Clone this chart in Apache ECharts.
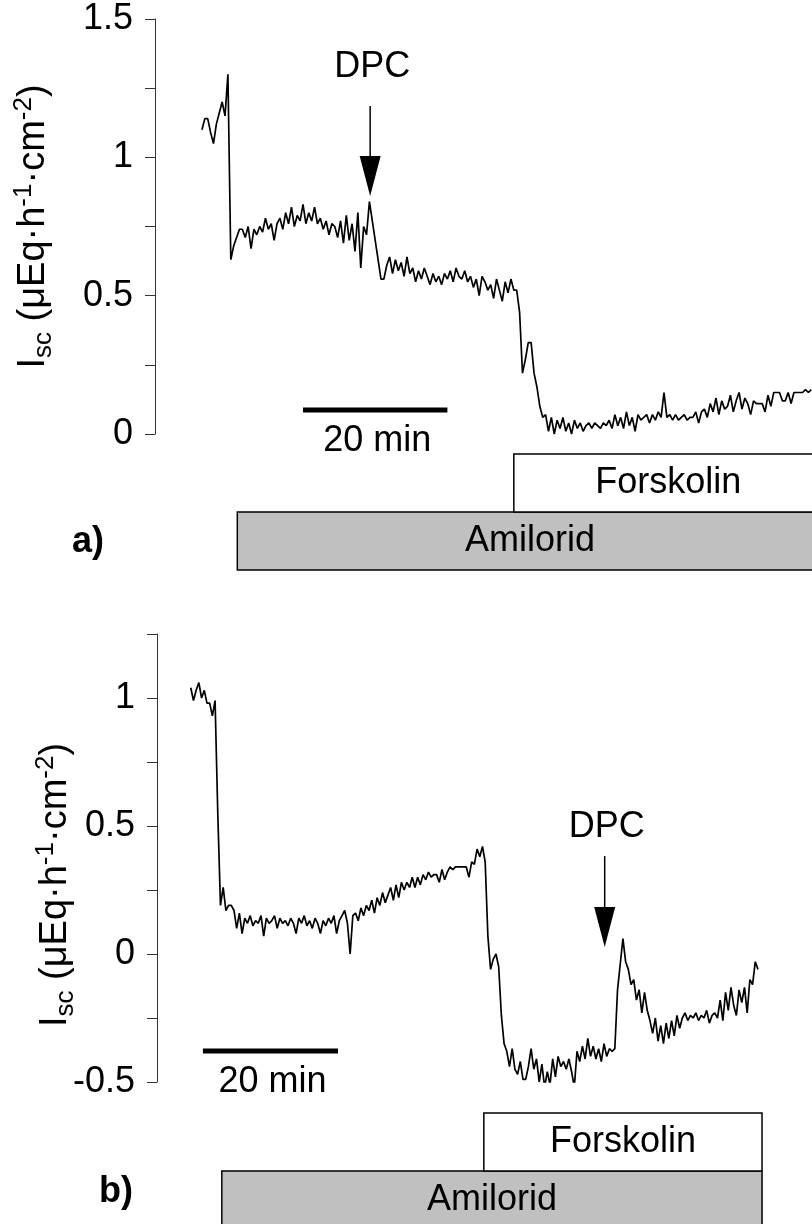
<!DOCTYPE html>
<html><head><meta charset="utf-8">
<script src="https://cdn.jsdelivr.net/npm/echarts@6/dist/echarts.min.js"></script>
<style>html,body{margin:0;padding:0;background:#fff}#c{width:812px;height:1224px}</style>
</head><body><div id="c"></div>
<script>
// ---- data ----
const SAMPLE_MIN = 0.4; // recording sample interval (min)

// panel a) short-circuit current, µEq·h-1·cm-2
const iscA = [
 1.10,1.14,1.14,1.09,1.05,1.12,1.16,1.20,1.15,1.30,
 0.63,
 0.68,0.71,0.74,0.74,0.71,0.75,0.67,0.74,0.72,0.75,
 0.73,0.78,0.74,0.76,0.70,0.76,0.78,0.74,0.80,0.76,
 0.82,0.75,0.79,0.77,0.83,0.76,0.80,0.77,0.82,0.76,
 0.78,0.74,0.77,0.72,0.76,0.75,0.71,0.77,0.69,0.79,
 0.70,0.76,0.66,0.80,0.60,0.75,0.72,0.84,0.77,0.70,
 0.63,0.56,0.56,0.61,0.64,0.58,0.63,0.59,
 0.62,0.57,0.64,0.58,0.60,0.55,0.59,0.56,0.60,0.57,
 0.54,0.58,0.55,0.57,0.54,0.58,0.56,0.59,0.55,0.60,
 0.57,0.56,0.59,0.55,0.57,0.53,0.56,0.50,0.57,0.55,
 0.52,0.54,0.49,0.56,0.52,0.48,0.55,0.51,0.56,0.52,
 0.52,0.44,0.22,0.27,0.33,0.33,0.22,0.17,0.10,0.06,
 0.07,0.01,0.06,0.00,0.05,0.02,0.06,0.01,0.04,0.00,
 0.05,0.02,0.04,0.01,0.03,0.04,0.02,0.04,0.03,0.02,
 0.04,0.03,0.05,0.02,0.07,0.03,0.06,0.02,0.08,0.03,
 0.06,0.01,
 0.07,0.05,0.06,0.07,0.04,0.07,0.05,0.08,0.06,0.15,
 0.06,0.07,0.05,0.07,0.05,0.06,0.07,0.05,0.06,0.06,
 0.08,0.04,0.08,
 0.09,0.06,0.11,0.08,0.13,0.07,0.12,0.09,0.10,0.14,
 0.08,0.12,0.15,0.09,0.13,0.11,0.07,0.12,0.11,0.11,
 0.11,0.08,0.14,0.10,0.15,0.15,0.15,0.12,0.12,0.15,
 0.11,0.15,0.15,0.15,0.15,0.16,0.15,0.16
];

// panel b)
const iscB = [
 1.04,0.99,1.03,1.06,1.00,1.03,0.98,0.98,0.93,0.99,
 0.55,0.19,0.26,0.17,0.19,0.19,0.17,
 0.10,0.16,0.08,0.14,0.12,0.15,0.11,0.13,0.12,0.15,
 0.07,0.14,0.12,0.13,0.15,0.10,0.14,0.12,0.13,0.11,
 0.14,0.12,0.08,0.14,0.12,0.15,0.11,0.13,0.10,0.14,
 0.12,0.08,0.13,0.11,0.14,0.12,
 0.15,0.08,0.13,0.15,0.17,0.12,0.00,0.15,
 0.16,0.13,0.18,0.15,0.19,0.17,0.21,0.16,0.22,0.19,
 0.24,0.20,0.23,0.26,0.21,0.27,0.22,0.28,0.25,
 0.28,0.26,0.30,0.26,0.30,0.27,0.31,0.29,0.32,0.30,
 0.31,0.31,0.28,0.33,0.29,0.32,0.34,0.33,
 0.34,0.34,0.34,0.34,0.34,0.30,0.36,0.35,0.41,0.38,0.42,
 0.36,0.07,-0.06,-0.02,0.00,-0.05,-0.24,-0.35,
 -0.38,-0.44,-0.37,-0.45,-0.47,-0.42,-0.49,-0.49,-0.44,-0.37,
 -0.45,-0.41,-0.50,-0.43,-0.52,-0.46,-0.51,-0.41,-0.48,-0.40,
 -0.44,-0.42,-0.45,-0.41,-0.46,-0.52,-0.38,
 -0.42,-0.36,-0.41,-0.33,-0.40,-0.36,-0.41,-0.37,-0.42,-0.35,-0.40,-0.37,-0.38,
 -0.37,-0.14,-0.04,0.06,-0.03,-0.06,-0.12,-0.10,-0.18,-0.14,-0.23,-0.15,-0.22,
 -0.26,-0.31,-0.25,-0.34,-0.28,-0.35,-0.27,-0.33,-0.26,-0.32,-0.24,-0.29,
 -0.25,-0.23,-0.26,-0.24,-0.25,-0.23,-0.26,-0.24,-0.25,-0.22,-0.27,-0.24,-0.23,-0.25,
 -0.18,-0.26,-0.15,-0.22,-0.13,-0.20,-0.24,-0.14,-0.19,-0.13,-0.23,-0.10,-0.12,-0.03,-0.06
];

// y axis ranges and tick step
const yRangeA = [0, 1.5];
const yRangeB = [-0.5, 1.25];
const yTickStep = 0.25;
const yLabelStep = 0.5;

// treatments: [name, start (min), end (min)]
const treatmentsA = [['Amilorid', 4.9, 86], ['Forskolin', 43.2, 86]];
const treatmentsB = [['Amilorid', 4.6, 84.6], ['Forskolin', 43.4, 84.6]];

// DPC addition: [time (min), arrow tip level]
const dpcA = [[23.3, 0.86]];
const dpcB = [[61.3, 0.027]];

// 20 min scale bar: [start, end] (min)
const scaleA = [[14.0, 34.0]];
const scaleB = [[1.8, 21.8]];
const scaleText = '20 min';

// ---- layout / style ----
const FONT = '"Liberation Sans", Arial, Helvetica, sans-serif';
const FS = 36;
const fills = { Amilorid: '#c0c0c0', Forskolin: '#ffffff' };
const LAYOUT = [
  { grid: { left: 155, top: 19, width: 657, height: 415 }, x: [-6.5, 84.5],
    rows: [[512, 570], [454, 512]], barY: 410, barTextY: 441,
    arrow: { shaft: 90, head: 40, text: 129 }, nameGap: 98, namePad: [0, 0, 0, 0],
    tag: 'a)', tagX: 92, tagY: 545 },
  { grid: { left: 157, top: 634, width: 655, height: 448 }, x: [-5, 92],
    rows: [[1171, 1229], [1113, 1171]], barY: 1051, barTextY: 1082,
    arrow: { shaft: 91, head: 40, text: 120 }, nameGap: 78, namePad: [0, 54, 0, 0],
    tag: 'b)', tagX: 119, tagY: 1195 }
];

const chart = echarts.init(document.getElementById('c'), null, { renderer: 'canvas' });

function trace(vals) { return vals.map((v, i) => [i * SAMPLE_MIN, v]); }

const yName = '{m|I}{sub|sc}{m| (μEq·h}{sup|-1}{m|·cm}{sup|-2}{m|)}';
const nameRich = {
  m: { fontSize: 38, fontFamily: FONT, color: '#000', lineHeight: 46 },
  sub: { fontSize: 26, fontFamily: FONT, color: '#000', lineHeight: 26, verticalAlign: 'bottom' },
  sup: { fontSize: 26, fontFamily: FONT, color: '#000', lineHeight: 26, verticalAlign: 'top' }
};

function yAxis(range, gi) {
  return {
    type: 'value', gridIndex: gi, min: range[0], max: range[1], interval: yTickStep,
    name: yName, nameLocation: 'middle', nameRotate: 90, nameGap: LAYOUT[gi].nameGap,
    nameMoveOverlap: false,
    nameTextStyle: { fontSize: 38, fontFamily: FONT, color: '#000', rich: nameRich, padding: LAYOUT[gi].namePad },
    splitLine: { show: false },
    axisLine: { show: true, onZero: false, lineStyle: { color: '#333', width: 1 } },
    axisTick: { show: true, inside: false, length: 10, lineStyle: { color: '#333', width: 1 } },
    axisLabel: {
      margin: 22, fontSize: FS, fontFamily: FONT, color: '#000',
      formatter: v => (Math.abs(Math.round(v * 100) % Math.round(yLabelStep * 100)) === 0 ? String(v) : '')
    }
  };
}

function boxesSeries(treat, gi) {
  const L = LAYOUT[gi];
  return {
    type: 'custom', xAxisIndex: gi, yAxisIndex: gi, clip: false, silent: true, z: 5,
    data: treat.map(d => [d[1], d[2]]),
    renderItem: (params, api) => {
      const x0 = api.coord([api.value(0), 0])[0];
      const x1 = api.coord([api.value(1), 0])[0];
      const r = L.rows[params.dataIndex];
      const nm = treat[params.dataIndex][0];
      return { type: 'group', children: [
        { type: 'rect', shape: { x: x0, y: r[0], width: x1 - x0, height: r[1] - r[0] },
          style: { fill: fills[nm], stroke: '#000', lineWidth: 1.5 } },
        { type: 'text', style: { text: nm, x: (x0 + x1) / 2, y: (r[0] + r[1]) / 2, align: 'center',
          verticalAlign: 'middle', fontSize: FS, fontFamily: FONT, fill: '#000' } }
      ]};
    }
  };
}

function arrowSeries(dpc, gi) {
  const A = LAYOUT[gi].arrow;
  return {
    type: 'custom', xAxisIndex: gi, yAxisIndex: gi, clip: false, silent: true, z: 6,
    data: dpc,
    renderItem: (params, api) => {
      const p = api.coord([api.value(0), api.value(1)]);
      return { type: 'group', children: [
        { type: 'line', shape: { x1: p[0], y1: p[1] - A.shaft, x2: p[0], y2: p[1] - A.head + 2 },
          style: { stroke: '#000', lineWidth: 1.5 } },
        { type: 'polygon', shape: { points: [[p[0] - 10.5, p[1] - A.head], [p[0] + 10.5, p[1] - A.head], [p[0], p[1]]] },
          style: { fill: '#000' } },
        { type: 'text', style: { text: 'DPC', x: p[0] + 2, y: p[1] - A.text, align: 'center', verticalAlign: 'middle',
          fontSize: FS, fontFamily: FONT, fill: '#000' } }
      ]};
    }
  };
}

function scaleSeries(sc, gi) {
  const L = LAYOUT[gi];
  return {
    type: 'custom', xAxisIndex: gi, yAxisIndex: gi, clip: false, silent: true, z: 6,
    data: sc,
    renderItem: (params, api) => {
      const x0 = api.coord([api.value(0), 0])[0];
      const x1 = api.coord([api.value(1), 0])[0];
      return { type: 'group', children: [
        { type: 'rect', shape: { x: x0, y: L.barY - 2.5, width: x1 - x0, height: 5 }, style: { fill: '#000' } },
        { type: 'text', style: { text: scaleText, x: (x0 + x1) / 2 + 2, y: L.barTextY, align: 'center', verticalAlign: 'middle',
          fontSize: FS, fontFamily: FONT, fill: '#000' } }
      ]};
    }
  };
}

const lineStyle = { color: '#000', width: 1.7 };

chart.setOption({
  animation: false,
  backgroundColor: '#fff',
  grid: LAYOUT.map(L => Object.assign({ containLabel: false, outerBoundsMode: 'none' }, L.grid)),
  xAxis: LAYOUT.map((L, i) => ({ type: 'value', gridIndex: i, min: L.x[0], max: L.x[1], show: false })),
  yAxis: [yAxis(yRangeA, 0), yAxis(yRangeB, 1)],
  graphic: LAYOUT.map(L => ({ type: 'text', left: L.tagX - 20, top: L.tagY - 21,
    style: { text: L.tag, fontSize: FS, fontWeight: 'bold', fontFamily: FONT, fill: '#000' } })),
  series: [
    { type: 'line', xAxisIndex: 0, yAxisIndex: 0, data: trace(iscA), showSymbol: false, symbol: 'none', lineStyle, z: 3 },
    { type: 'line', xAxisIndex: 1, yAxisIndex: 1, data: trace(iscB), showSymbol: false, symbol: 'none', lineStyle, z: 3 },
    boxesSeries(treatmentsA, 0), boxesSeries(treatmentsB, 1),
    arrowSeries(dpcA, 0), arrowSeries(dpcB, 1),
    scaleSeries(scaleA, 0), scaleSeries(scaleB, 1)
  ]
});
</script>
</body></html>
